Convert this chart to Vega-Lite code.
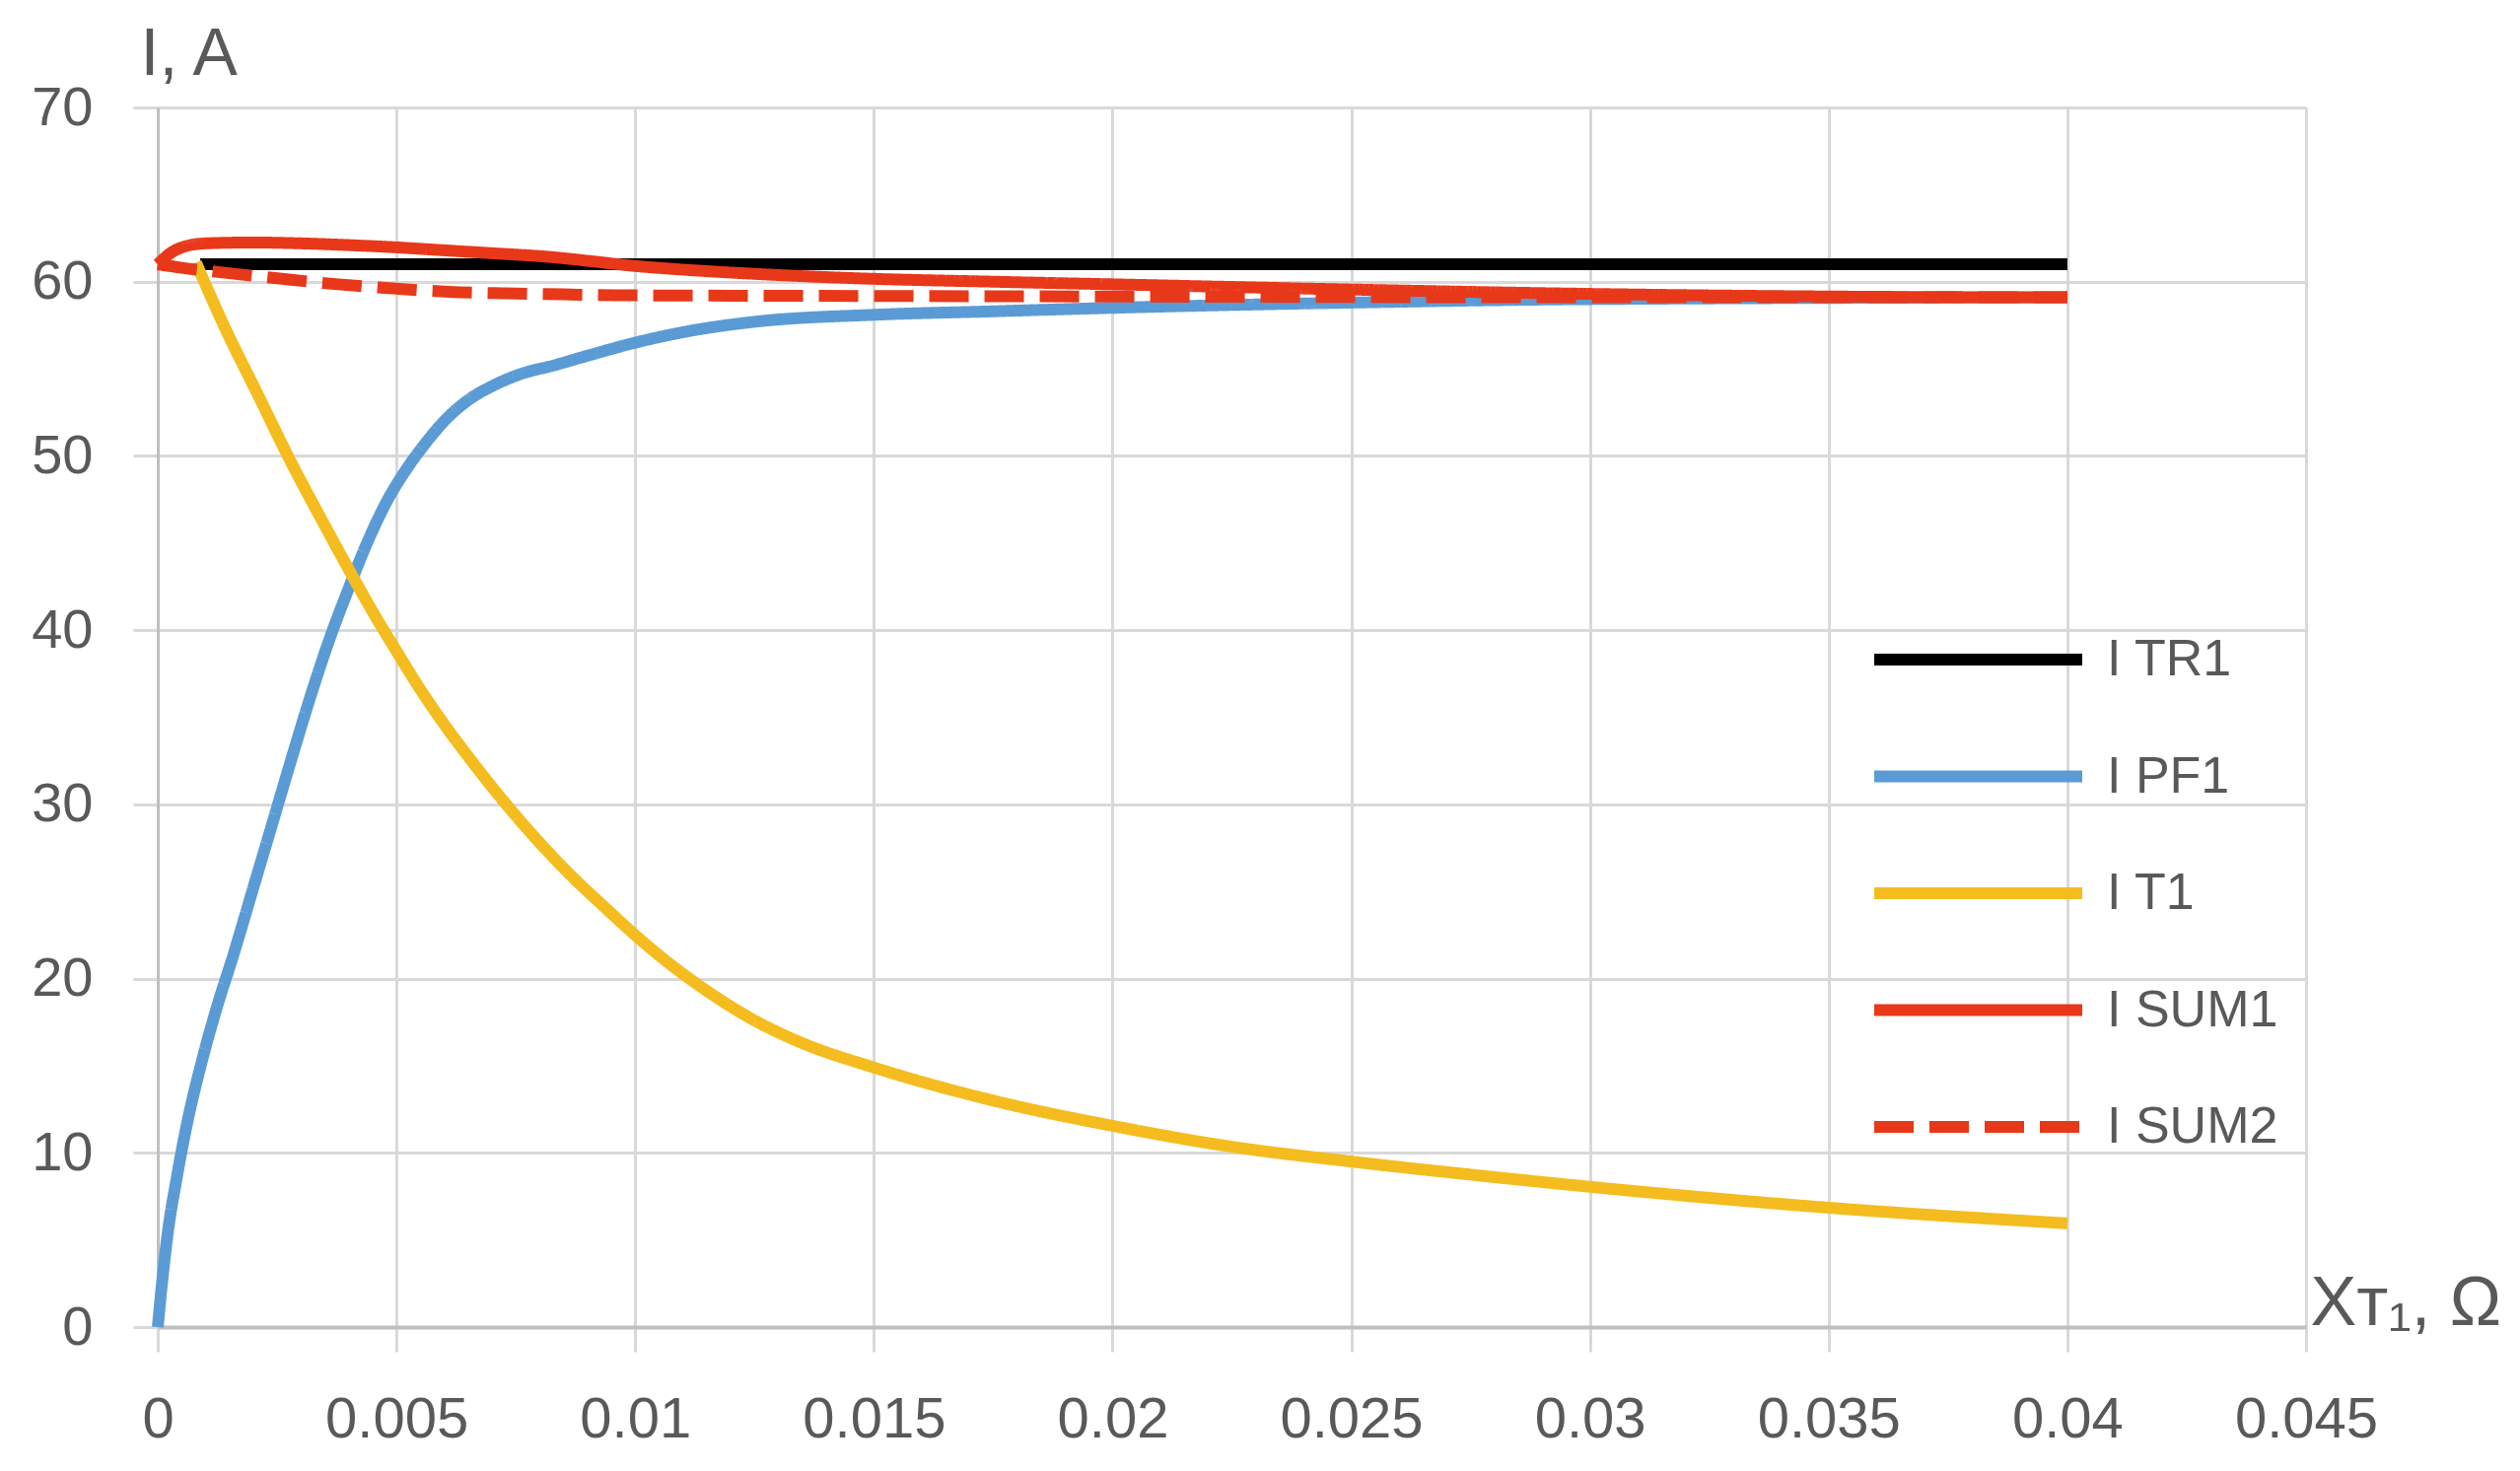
{
  "$schema": "https://vega.github.io/schema/vega-lite/v6.json",
  "width": 2179,
  "height": 1237,
  "autosize": {"type": "none"},
  "padding": {"left": 160, "top": 109, "right": 217, "bottom": 146},
  "background": "white",
  "config": {
    "view": {"stroke": null},
    "font": "Liberation Sans, Arial, DejaVu Sans, sans-serif"
  },
  "data": {
    "values": [
      {"series": "I TR1", "x": 0.00089, "current": 61.0},
      {"series": "I TR1", "x": 0.005, "current": 61.0},
      {"series": "I TR1", "x": 0.01, "current": 61.0},
      {"series": "I TR1", "x": 0.02, "current": 61.0},
      {"series": "I TR1", "x": 0.03, "current": 61.0},
      {"series": "I TR1", "x": 0.04, "current": 61.0},

      {"series": "I PF1", "x": 0, "current": 0},
      {"series": "I PF1", "x": 0.0001, "current": 2.8},
      {"series": "I PF1", "x": 0.0002, "current": 5.2},
      {"series": "I PF1", "x": 0.0004, "current": 8.6},
      {"series": "I PF1", "x": 0.0006, "current": 11.5},
      {"series": "I PF1", "x": 0.0009, "current": 15.0},
      {"series": "I PF1", "x": 0.0012, "current": 18.0},
      {"series": "I PF1", "x": 0.0016, "current": 21.5},
      {"series": "I PF1", "x": 0.002, "current": 25.2},
      {"series": "I PF1", "x": 0.0024, "current": 28.9},
      {"series": "I PF1", "x": 0.0028, "current": 32.6},
      {"series": "I PF1", "x": 0.0032, "current": 36.2},
      {"series": "I PF1", "x": 0.0036, "current": 39.5},
      {"series": "I PF1", "x": 0.004, "current": 42.4},
      {"series": "I PF1", "x": 0.0044, "current": 45.1},
      {"series": "I PF1", "x": 0.0048, "current": 47.4},
      {"series": "I PF1", "x": 0.0052, "current": 49.2},
      {"series": "I PF1", "x": 0.0056, "current": 50.7},
      {"series": "I PF1", "x": 0.006, "current": 52.0},
      {"series": "I PF1", "x": 0.0065, "current": 53.2},
      {"series": "I PF1", "x": 0.007, "current": 54.0},
      {"series": "I PF1", "x": 0.0076, "current": 54.7},
      {"series": "I PF1", "x": 0.0083, "current": 55.2},
      {"series": "I PF1", "x": 0.009, "current": 55.75},
      {"series": "I PF1", "x": 0.01, "current": 56.5},
      {"series": "I PF1", "x": 0.011, "current": 57.1},
      {"series": "I PF1", "x": 0.0125, "current": 57.7},
      {"series": "I PF1", "x": 0.015, "current": 58.1},
      {"series": "I PF1", "x": 0.0175, "current": 58.3},
      {"series": "I PF1", "x": 0.02, "current": 58.5},
      {"series": "I PF1", "x": 0.025, "current": 58.8},
      {"series": "I PF1", "x": 0.03, "current": 59.0},
      {"series": "I PF1", "x": 0.04, "current": 59.1},

      {"series": "I T1", "x": 0.0008, "current": 61.1},
      {"series": "I T1", "x": 0.0014, "current": 57.4},
      {"series": "I T1", "x": 0.0021, "current": 53.5},
      {"series": "I T1", "x": 0.0028, "current": 49.6},
      {"series": "I T1", "x": 0.0035, "current": 46.0},
      {"series": "I T1", "x": 0.0041, "current": 43.0},
      {"series": "I T1", "x": 0.0046, "current": 40.6},
      {"series": "I T1", "x": 0.005, "current": 38.8},
      {"series": "I T1", "x": 0.0055, "current": 36.6},
      {"series": "I T1", "x": 0.006, "current": 34.6},
      {"series": "I T1", "x": 0.0066, "current": 32.4},
      {"series": "I T1", "x": 0.0073, "current": 30.0},
      {"series": "I T1", "x": 0.008, "current": 27.8},
      {"series": "I T1", "x": 0.0087, "current": 25.8},
      {"series": "I T1", "x": 0.0094, "current": 24.0},
      {"series": "I T1", "x": 0.01, "current": 22.5},
      {"series": "I T1", "x": 0.0107, "current": 20.9},
      {"series": "I T1", "x": 0.0115, "current": 19.3},
      {"series": "I T1", "x": 0.0125, "current": 17.6},
      {"series": "I T1", "x": 0.0135, "current": 16.3},
      {"series": "I T1", "x": 0.015, "current": 14.9},
      {"series": "I T1", "x": 0.0175, "current": 13.0},
      {"series": "I T1", "x": 0.02, "current": 11.55},
      {"series": "I T1", "x": 0.0225, "current": 10.35},
      {"series": "I T1", "x": 0.025, "current": 9.5},
      {"series": "I T1", "x": 0.0275, "current": 8.75},
      {"series": "I T1", "x": 0.03, "current": 8.05},
      {"series": "I T1", "x": 0.035, "current": 6.85},
      {"series": "I T1", "x": 0.04, "current": 5.95},

      {"series": "I SUM1", "x": 0, "current": 61.0},
      {"series": "I SUM1", "x": 0.0003, "current": 61.7},
      {"series": "I SUM1", "x": 0.0006, "current": 62.05},
      {"series": "I SUM1", "x": 0.001, "current": 62.2},
      {"series": "I SUM1", "x": 0.002, "current": 62.25},
      {"series": "I SUM1", "x": 0.003, "current": 62.2},
      {"series": "I SUM1", "x": 0.004, "current": 62.1},
      {"series": "I SUM1", "x": 0.0048, "current": 62.0},
      {"series": "I SUM1", "x": 0.006, "current": 61.8},
      {"series": "I SUM1", "x": 0.0069, "current": 61.65},
      {"series": "I SUM1", "x": 0.0083, "current": 61.4},
      {"series": "I SUM1", "x": 0.009, "current": 61.2},
      {"series": "I SUM1", "x": 0.01, "current": 60.9},
      {"series": "I SUM1", "x": 0.0107, "current": 60.75},
      {"series": "I SUM1", "x": 0.0125, "current": 60.45},
      {"series": "I SUM1", "x": 0.0146, "current": 60.2},
      {"series": "I SUM1", "x": 0.0175, "current": 60.0},
      {"series": "I SUM1", "x": 0.02, "current": 59.85},
      {"series": "I SUM1", "x": 0.025, "current": 59.55},
      {"series": "I SUM1", "x": 0.03, "current": 59.3},
      {"series": "I SUM1", "x": 0.035, "current": 59.15},
      {"series": "I SUM1", "x": 0.04, "current": 59.1},

      {"series": "I SUM2", "x": 0, "current": 61.0},
      {"series": "I SUM2", "x": 0.0005, "current": 60.8},
      {"series": "I SUM2", "x": 0.00145, "current": 60.5},
      {"series": "I SUM2", "x": 0.00265, "current": 60.15},
      {"series": "I SUM2", "x": 0.00378, "current": 59.85},
      {"series": "I SUM2", "x": 0.005, "current": 59.6},
      {"series": "I SUM2", "x": 0.0061, "current": 59.42},
      {"series": "I SUM2", "x": 0.0073, "current": 59.33},
      {"series": "I SUM2", "x": 0.0085, "current": 59.27},
      {"series": "I SUM2", "x": 0.0096, "current": 59.22},
      {"series": "I SUM2", "x": 0.015, "current": 59.18},
      {"series": "I SUM2", "x": 0.02, "current": 59.15},
      {"series": "I SUM2", "x": 0.03, "current": 59.1},
      {"series": "I SUM2", "x": 0.04, "current": 59.1}
    ]
  },
  "encoding": {
    "x": {
      "field": "x",
      "type": "quantitative",
      "scale": {"domain": [0, 0.045], "nice": false, "zero": false},
      "axis": {
        "values": [0, 0.005, 0.01, 0.015, 0.02, 0.025, 0.03, 0.035, 0.04, 0.045],
        "format": ".3~f",
        "title": "Xᴛ₁, Ω",
        "titleFont": "Liberation Sans, DejaVu Sans, sans-serif",
        "titleFontSize": 70,
        "titleFontWeight": "normal",
        "titleColor": "#595959",
        "titleAlign": "left",
        "titleBaseline": "alphabetic",
        "titleAnchor": "start",
        "titleX": 2183,
        "titleY": -3,
        "labelFontSize": 58,
        "labelColor": "#595959",
        "labelBaseline": "alphabetic",
        "labelPadding": 86,
        "labelFlush": false,
        "labelOverlap": false,
        "domainColor": "#bfbfbf",
        "domainWidth": 4,
        "tickColor": "#d9d9d9",
        "tickWidth": 3,
        "tickSize": 25,
        "gridColor": "#d9d9d9",
        "gridWidth": 3
      }
    },
    "y": {
      "field": "current",
      "type": "quantitative",
      "scale": {"domain": [0, 70], "nice": false},
      "axis": {
        "values": [0, 10, 20, 30, 40, 50, 60, 70],
        "title": "I, A",
        "titleFontSize": 68,
        "titleFontWeight": "normal",
        "titleColor": "#595959",
        "titleAngle": 0,
        "titleAlign": "left",
        "titleBaseline": "alphabetic",
        "titleAnchor": "start",
        "titleX": -18,
        "titleY": -34,
        "labelFontSize": 56,
        "labelColor": "#595959",
        "labelPadding": 41,
        "labelFlush": false,
        "labelOverlap": false,
        "domainColor": "#bfbfbf",
        "domainWidth": 3,
        "tickColor": "#d9d9d9",
        "tickWidth": 3,
        "tickSize": 25,
        "gridColor": "#d9d9d9",
        "gridWidth": 3
      }
    },
    "color": {
      "field": "series",
      "type": "nominal",
      "scale": {
        "domain": ["I TR1", "I PF1", "I T1", "I SUM1", "I SUM2"],
        "range": ["#000000", "#5b9bd5", "#f4bc1e", "#e8381a", "#e8381a"]
      },
      "legend": {
        "title": null,
        "orient": "none",
        "legendX": 1735,
        "legendY": 530,
        "padding": 0,
        "symbolType": "stroke",
        "symbolSize": 44521,
        "symbolStrokeWidth": 12,
        "clipHeight": 60,
        "rowPadding": 58.5,
        "labelOffset": 19,
        "labelFontSize": 52,
        "labelColor": "#595959",
        "labelLimit": 400
      }
    },
    "strokeDash": {
      "field": "series",
      "type": "nominal",
      "scale": {
        "domain": ["I TR1", "I PF1", "I T1", "I SUM1", "I SUM2"],
        "range": [[1, 0], [1, 0], [1, 0], [1, 0], [40, 16]]
      }
    }
  },
  "layer": [
    {"transform": [{"filter": "datum.series === 'I TR1'"}], "mark": {"type": "line", "strokeWidth": 12, "interpolate": "monotone", "strokeJoin": "round"}},
    {"transform": [{"filter": "datum.series === 'I PF1'"}], "mark": {"type": "line", "strokeWidth": 12, "interpolate": "monotone", "strokeJoin": "round"}},
    {"transform": [{"filter": "datum.series === 'I T1'"}], "mark": {"type": "line", "strokeWidth": 12, "interpolate": "monotone", "strokeJoin": "round"}},
    {"transform": [{"filter": "datum.series === 'I SUM1'"}], "mark": {"type": "line", "strokeWidth": 12, "interpolate": "monotone", "strokeJoin": "round"}},
    {"transform": [{"filter": "datum.series === 'I SUM2'"}], "mark": {"type": "line", "strokeWidth": 12, "interpolate": "monotone", "strokeJoin": "round"}}
  ]
}
